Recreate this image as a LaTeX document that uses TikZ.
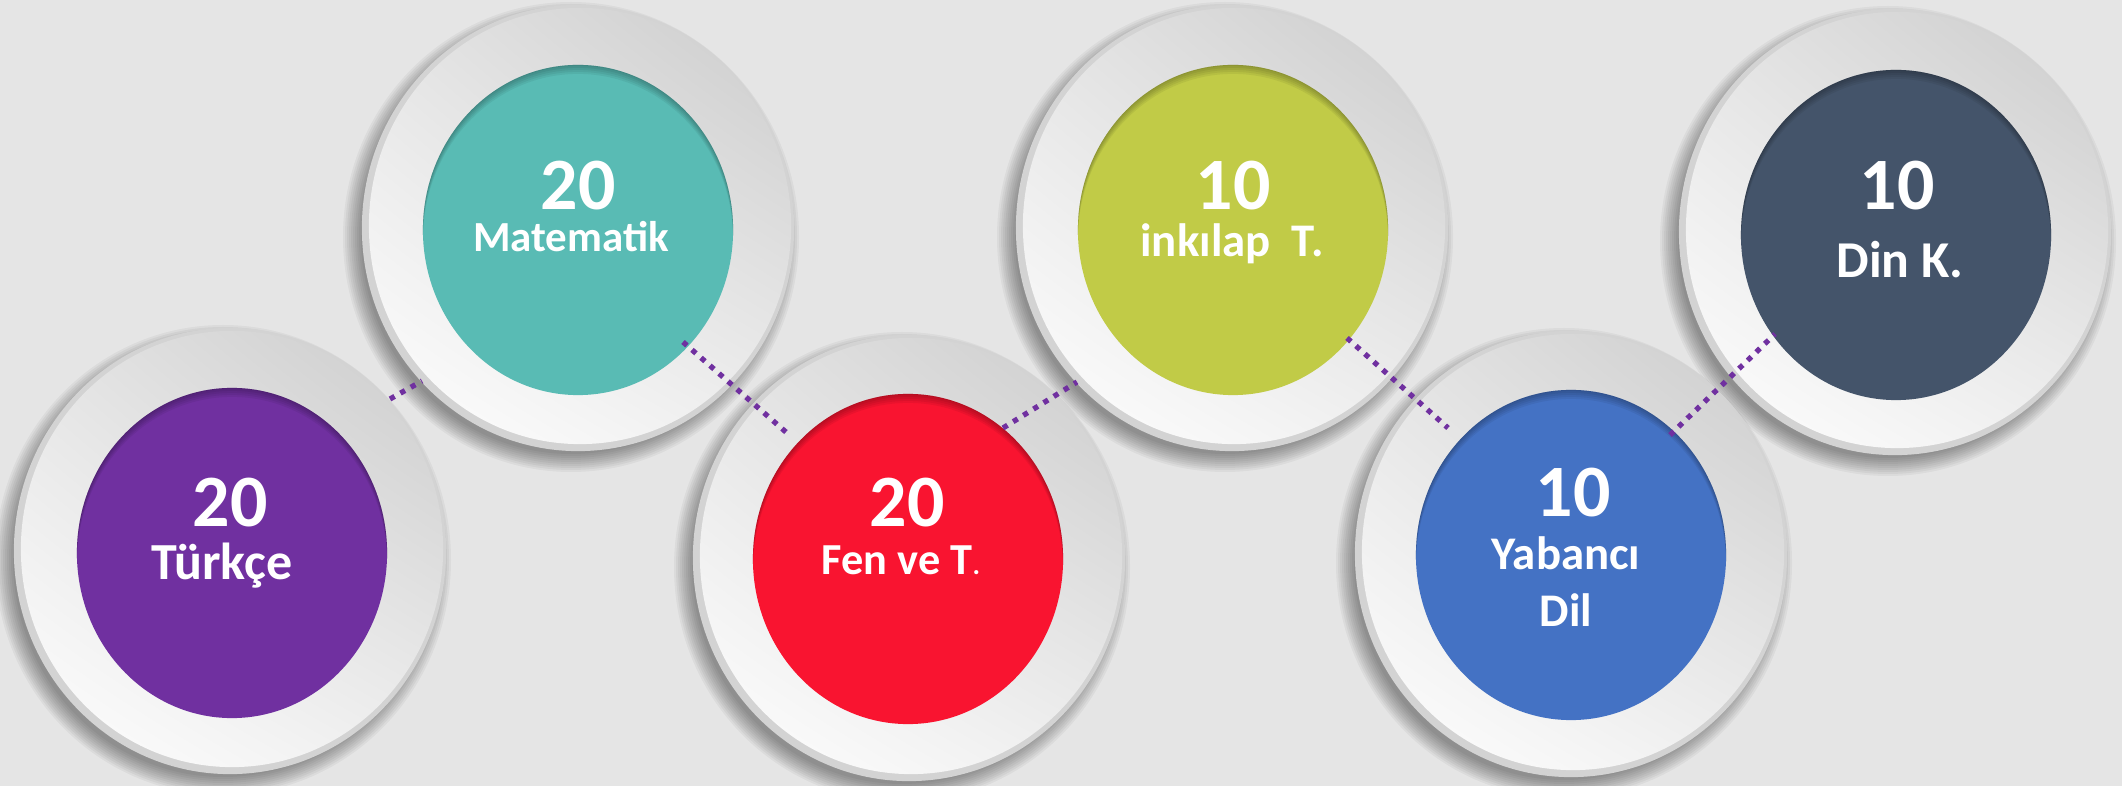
\documentclass[tikz,border=0pt]{standalone}
\usepackage{fontspec}
\setmainfont{Carlito}
\usetikzlibrary{shapes.geometric,calc,shadings}
\definecolor{bg}{HTML}{E5E5E5}
\definecolor{purp}{HTML}{7030A0}
\definecolor{teal1}{HTML}{59BBB4}
\definecolor{red1}{HTML}{F91430}
\definecolor{green1}{HTML}{C1CB47}
\definecolor{blue1}{HTML}{4472C4}
\definecolor{dark1}{HTML}{44546A}
\definecolor{platerim}{HTML}{D3D3D3}
\definecolor{pul}{HTML}{E4E4E4}
\definecolor{pur}{HTML}{CBCBCB}
\definecolor{plr}{HTML}{EEEEEE}
\tikzset{
  plate/.style={ellipse, inner sep=0, draw=none, minimum width=4.32cm, minimum height=4.46cm, fill=platerim},
  platetop/.style={ellipse, inner sep=0, draw=none, minimum width=4.22cm, minimum height=4.36cm,
     upper left=pul, upper right=pur, lower left=white, lower right=plr},
  disc/.style={ellipse, inner sep=0, draw=none, minimum width=3.1cm, minimum height=3.3cm, fill=#1},
  num/.style={text=white, inner sep=0, anchor=base, text height=0.65em, text depth=0pt,
     font=\fontsize{21}{21}\selectfont\bfseries},
  lbl/.style={text=white, inner sep=0, anchor=base, text height=0.7em, text depth=0.15em,
     font=\fontsize{#1}{#1}\selectfont\bfseries},
  conn/.style={draw=purp, line width=1.5pt, dash pattern=on 1.5pt off 1.9pt},
}
\newcommand\platesh[2]{%
  \foreach \k in {0,...,9}{%
    \fill[black, opacity=0.045] ($(#1,#2)+(-7,9)$) ellipse [x radius={(228-2*\k)*0.01cm}, y radius={(235-2*\k)*0.01cm}];
  }%
}
\newcommand\innersh[1]{%
  \begin{scope}
    \clip (#1.center) ellipse [x radius=1.55cm, y radius=1.65cm];
    \foreach \s in {1,3,5,7,9}{%
      \fill[black, opacity=0.06, even odd rule] (#1.center) ellipse [x radius=2cm, y radius=2.1cm]
        ($(#1.center)+(0,\s)$) ellipse [x radius=1.55cm, y radius=1.65cm];
    }
  \end{scope}%
}
\begin{document}
\begin{tikzpicture}[x=0.01cm, y=-0.01cm]
\fill[bg] (0,0) rectangle (2122,786);
\useasboundingbox (0,0) rectangle (2122,786);

% shadows
\platesh{230}{551}
\platesh{578}{228}
\platesh{909}{558}
\platesh{1232}{228}
\platesh{1571}{554}
\platesh{1895}{232}

% plates
\node[plate] (p1) at (230,551) {};
\node[plate] (p2) at (578,228) {};
\node[plate] (p3) at (909,558) {};
\node[plate] (p4) at (1232,228) {};
\node[plate] (p5) at (1571,554) {};
\node[plate] (p6) at (1895,232) {};
\node[platetop] (q1) at (232,549) {};
\node[platetop] (q2) at (580,226) {};
\node[platetop] (q3) at (911,556) {};
\node[platetop] (q4) at (1234,226) {};
\node[platetop] (q5) at (1573,552) {};
\node[platetop] (q6) at (1897,230) {};

% colored discs
\node[disc=purp] (c1) at (232,553) {};
\node[disc=teal1] (c2) at (578,230) {};
\node[disc=red1] (c3) at (908,559) {};
\node[disc=green1] (c4) at (1233,230) {};
\node[disc=blue1] (c5) at (1571,555) {};
\node[disc=dark1] (c6) at (1896,235) {};
\innersh{c1}\innersh{c2}\innersh{c3}\innersh{c4}\innersh{c5}\innersh{c6}

% connectors
\coordinate (a1) at (390,399); \coordinate (a2) at (422,381);
\coordinate (b1) at (683,342); \coordinate (b2) at (787,433);
\coordinate (d1) at (1003,428); \coordinate (d2) at (1077,382);
\coordinate (e1) at (1347,338); \coordinate (e2) at (1448,428);
\coordinate (f1) at (1670,435); \coordinate (f2) at (1775,334);
\draw[conn] (a1) -- (a2);
\draw[conn] (b1) -- (b2);
\draw[conn] (d1) -- (d2);
\draw[conn] (e1) -- (e2);
\draw[conn] (f1) -- (f2);

% texts
\node[num] (n1) at (230,527) {20};
\node[lbl=14.8] (l1) at (222,580) {Türkçe};
\node[num] (n2) at (578,210) {20};
\node[lbl=12.2] (l2) at (571,252) {Matematik};
\node[num] (n3) at (907,527) {20};
\node[lbl=12.6] (l3) at (901,575) {Fen ve T{\fontsize{8}{8}\selectfont.}};
\node[num] (n4) at (1233,210) {10};
\node[lbl=13.3] (l4) at (1232,257) {inkılap\ \ T.};
\node[num] (n5) at (1573,517) {10};
\node[lbl=13.3] (l5) at (1566,570) {Yabancı};
\node[lbl=13.3] (l5b) at (1566,627) {Dil};
\node[num] (n6) at (1897,210) {10};
\node[lbl=14.7] (l6) at (1900,278) {Din K.};
\end{tikzpicture}
\end{document}
